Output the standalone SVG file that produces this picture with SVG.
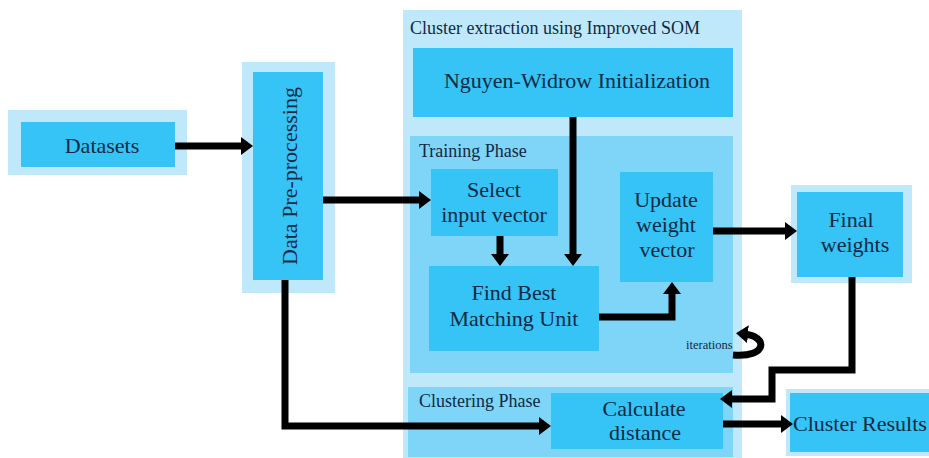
<svg xmlns="http://www.w3.org/2000/svg" width="929" height="458" viewBox="0 0 929 458">
<defs>
<style>
.outer{fill:#bfe9fa}
.panel{fill:#7fd5f7}
.box{fill:#36c3f5}
text{font-family:'Liberation Serif','Times New Roman',serif;fill:#0f2a45}
.t{font-size:22px;text-anchor:middle}
.lbl{font-size:18px}
.con{fill:none;stroke:#000;stroke-width:7;stroke-linejoin:miter}
</style>
<marker id="ah" markerUnits="userSpaceOnUse" viewBox="0 0 12 18" refX="4" refY="9" markerWidth="12" markerHeight="18" orient="auto">
<path d="M0,0 L12,9 L0,18 Z" fill="#000"/>
</marker>
</defs>
<rect width="929" height="458" fill="#fff"/>
<g font-family="Liberation Serif, serif">
<g id="datasets">
<rect class="outer" x="8" y="110" width="179" height="65"/>
<rect class="box" x="21" y="122" width="154" height="45"/>
<text class="t" x="102" y="153">Datasets</text>
</g>

<g id="preprocessing">
<rect class="outer" x="242" y="62" width="93" height="231"/>
<rect class="box" x="253" y="72" width="70" height="208"/>
<text class="t" transform="translate(297,176) rotate(-90)">Data Pre-processing</text>
</g>

<g id="cluster-extraction">
<rect class="outer" x="403" y="10" width="339" height="448"/>
<text class="lbl" x="410" y="34">Cluster extraction using Improved SOM</text>
</g>

<g id="nguyen">
<rect class="box" x="413" y="48" width="320" height="69"/>
<text class="t" x="577" y="88">Nguyen-Widrow Initialization</text>
</g>

<g id="training-phase">
<rect class="panel" x="410" y="136" width="323" height="237"/>
<text class="lbl" x="419" y="157">Training Phase</text>
</g>

<g id="select">
<rect class="box" x="431" y="169" width="127" height="67"/>
<text class="t" x="494" y="197">Select</text>
<text class="t" x="494" y="222">input vector</text>
</g>

<g id="bmu">
<rect class="box" x="429" y="266" width="170" height="85"/>
<text class="t" x="514" y="300">Find Best</text>
<text class="t" x="514" y="326">Matching Unit</text>
</g>

<g id="update">
<rect class="box" x="620" y="172" width="93" height="110"/>
<text class="t" x="666" y="207">Update</text>
<text class="t" x="666" y="232">weight</text>
<text class="t" x="667" y="257">vector</text>
</g>

<g id="final">
<rect class="outer" x="791" y="185" width="121" height="98"/>
<rect class="box" x="797" y="192" width="106" height="85"/>
<text class="t" x="851" y="227">Final</text>
<text class="t" x="855" y="252">weights</text>
</g>

<g id="clustering-phase">
<rect class="panel" x="408" y="387" width="325" height="70"/>
<text class="lbl" x="419" y="407">Clustering Phase</text>
</g>

<g id="calculate">
<rect class="box" x="551" y="393" width="172" height="56"/>
<text class="t" x="644" y="416">Calculate</text>
<text class="t" x="645" y="440">distance</text>
</g>

<g id="results">
<rect class="outer" x="786" y="389" width="143" height="67"/>
<rect class="box" x="790" y="393" width="139" height="59"/>
<text class="t" x="793" y="431" style="text-anchor:start">Cluster Results</text>
</g>

<text x="686" y="349" style="font-size:12.5px">iterations</text>
</g>
<g id="connectors">
<path class="con" d="M175,146 H245" marker-end="url(#ah)"/>
<path class="con" d="M323,200 H423" marker-end="url(#ah)"/>
<path class="con" d="M573,117 V258" marker-end="url(#ah)"/>
<path class="con" d="M500,236 V258" marker-end="url(#ah)"/>
<path class="con" d="M599,317 H672 V290" marker-end="url(#ah)"/>
<path class="con" d="M713,231 H789" marker-end="url(#ah)"/>
<path class="con" d="M852,277 V370 H772 V399 H728" marker-end="url(#ah)"/>
<path class="con" d="M285,280 V426 H543" marker-end="url(#ah)"/>
<path class="con" d="M723,424 H785" marker-end="url(#ah)"/>
<path class="con" d="M733,355 C768,358 768,336 744,334" marker-end="url(#ah)"/>
</g>
</svg>
